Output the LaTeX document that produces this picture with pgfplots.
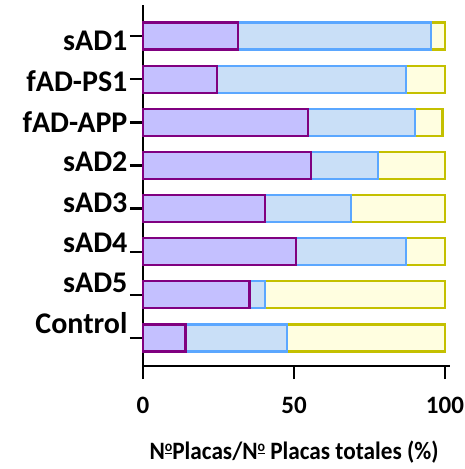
\documentclass[border=0pt]{standalone}
\usepackage{pgfplots}
\pgfplotsset{compat=1.18}
\usepackage{graphicx}
\usepackage{fontspec}
\setmainfont{Carlito}
\definecolor{pfill}{HTML}{C4C0FF}
\definecolor{pline}{HTML}{800080}
\definecolor{bfill}{HTML}{C9DFF7}
\definecolor{bline}{HTML}{5BA7FF}
\definecolor{yfill}{HTML}{FFFEE0}
\definecolor{yline}{HTML}{C4C000}
\newcommand{\ord}{\raisebox{0.33em}{\fontsize{15}{15}\selectfont\underline{o}}}
\begin{document}
\begin{tikzpicture}
\begin{axis}[
  scale only axis, width=302pt, height=361pt,
  xbar stacked, bar width=27pt,
  xmin=0, xmax=100, ymin=-0.65, ymax=7.72,
  axis lines*=left,
  axis line style={line width=2.6pt,-},
  x axis line style={shorten >=-5pt},
  xtick={0,50,100}, ytick={0,...,7},
  yticklabels={Control,sAD5,sAD4,sAD3,sAD2,fAD-APP,fAD-PS1,sAD1},
  tick align=outside, major tick length=13pt,
  every tick/.style={black,line width=2.4pt},
  /pgf/number format/assume math mode=true,
  yticklabel style={font=\fontsize{30}{31}\selectfont\bfseries, xshift=1pt, yshift={(15-2.9*\ticknum)*1pt}},
  xticklabel style={font=\fontsize{25}{27}\selectfont\bfseries, yshift=-15pt},
  xlabel={\scalebox{0.93}[1]{N\ord Placas/N\ord{} Placas totales (\%)}},
  xlabel style={font=\fontsize{25}{27}\selectfont\bfseries, yshift=-20pt},
  clip=false,
  every axis plot/.append style={line width=2.3pt},
]
\addplot[fill=pfill, draw=pline, line width=2.3pt] coordinates {
 (31.5,7) (24.4,6) (54.6,5) (55.6,4) (40.5,3) (50.7,2) (35.3,1) (14.1,0)};
\addplot[fill=bfill, draw=bline, line width=2.3pt] coordinates {
 (63.9,7) (62.6,6) (35.4,5) (22.2,4) (28.4,3) (36.3,2) (5.2,1) (33.6,0)};
\addplot[fill=yfill, draw=yline, line width=2.3pt] coordinates {
 (4.6,7) (13,6) (9.2,5) (22.2,4) (31.1,3) (13,2) (59.5,1) (52.3,0)};
\end{axis}
\pgfresetboundingbox
\useasboundingbox ([xshift=-143pt,yshift=-103pt]current axis.south west) rectangle ([xshift=321pt,yshift=366pt]current axis.south west);
\end{tikzpicture}
\end{document}
